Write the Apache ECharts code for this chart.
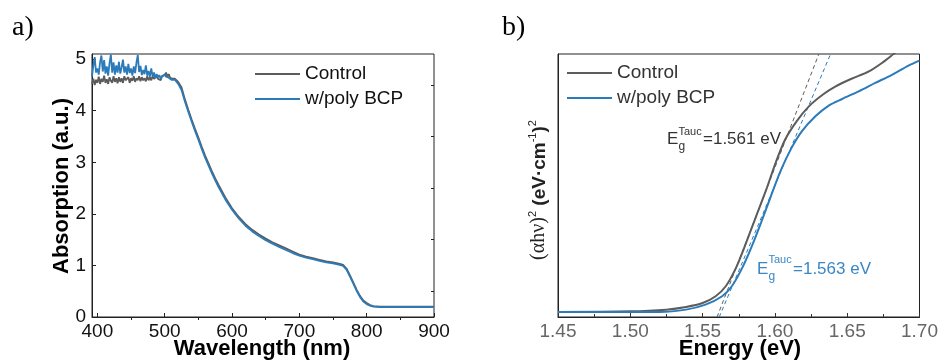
<!DOCTYPE html>
<html>
<head>
<meta charset="utf-8">
<script src="https://cdn.jsdelivr.net/npm/echarts@6/dist/echarts.min.js"></script>
<style>
html,body{margin:0;padding:0;background:#fff;}
#chart{width:941px;height:363px;}
</style>
</head>
<body>
<div id="chart"></div>
<script>
// ---------- Panel a) data ----------
const wavelength = [
  392,394,396,398,400,402,404,406,408,410,412,414,416,418,420,422,424,426,428,430,
  432,434,436,438,440,442,444,446,448,450,452,454,456,458,460,462,464,466,468,470,
  472,474,476,478,480,482,484,486,488,490,492,494,496,498,500,502,504,506,508,510,512,
  515,520,525,530,535,540,545,550,555,560,565,570,575,580,
  590,600,610,620,630,640,650,660,670,680,690,700,710,720,730,740,750,760,
  765,770,775,780,785,790,795,800,805,810,820,840,860,880,900
];
const controlAbs = [
  4.52,4.62,4.50,4.60,4.54,4.66,4.52,4.62,4.56,4.68,4.54,4.61,4.52,4.65,4.58,4.54,4.67,4.56,4.63,4.53,
  4.65,4.56,4.63,4.54,4.67,4.59,4.56,4.65,4.54,4.63,4.58,4.67,4.56,4.63,4.59,4.67,4.57,4.65,4.59,4.63,
  4.57,4.67,4.59,4.65,4.59,4.67,4.62,4.59,4.67,4.62,4.65,4.59,4.67,4.64,4.69,4.74,4.66,4.71,4.64,4.67,4.62,
  4.62,4.56,4.45,4.22,4.02,3.83,3.65,3.48,3.30,3.13,2.98,2.83,2.69,2.56,
  2.32,2.11,1.94,1.80,1.69,1.60,1.52,1.45,1.39,1.33,1.27,1.21,1.17,1.14,1.11,1.08,1.06,1.03,
  1.01,0.94,0.81,0.67,0.53,0.41,0.32,0.27,0.23,0.21,0.20,0.20,0.20,0.20,0.20
];
const polyBcpAbs = [
  4.66,4.88,5.04,4.74,4.82,4.70,4.94,5.07,4.76,4.98,4.72,4.86,4.68,4.92,5.09,4.74,4.94,4.70,4.88,4.74,
  4.95,4.72,4.84,4.99,4.74,4.86,4.70,4.91,4.73,4.82,4.68,4.86,4.73,4.93,5.08,4.75,4.87,4.69,4.79,4.71,
  4.88,4.68,4.77,4.66,4.82,4.67,4.74,4.63,4.71,4.65,4.69,4.62,4.67,4.64,4.70,4.66,4.68,4.64,4.66,4.60,4.58,
  4.60,4.52,4.40,4.18,3.98,3.79,3.61,3.44,3.26,3.09,2.94,2.79,2.65,2.52,
  2.28,2.08,1.91,1.77,1.66,1.57,1.49,1.42,1.36,1.30,1.24,1.19,1.15,1.12,1.09,1.06,1.04,1.01,
  0.99,0.92,0.79,0.65,0.51,0.39,0.30,0.25,0.22,0.20,0.19,0.19,0.19,0.19,0.19
];
const wlTicks = [400,500,600,700,800,900];
const wlMinorTicks = [450,550,650,750,850];
const absTicks = [0,1,2,3,4,5];
const absMinorTicks = [0.5,1.5,2.5,3.5,4.5];

// ---------- Panel b) data ----------
const ctrlEnergy = [1.45,1.50,1.525,1.5385,1.55,1.559,1.566,1.573,1.580,1.587,1.594,1.6005,1.607,1.615,1.6235,1.633,1.642,1.653,1.665,1.674,1.682,1.69];
const ctrlTauc   = [1.9,2.15,2.8,3.8,5.3,7.9,11.7,18.6,28.1,38.3,48.4,58.6,67.4,74.4,80.1,84.5,87.7,90.6,93.4,96.6,100,103.5];
const polyEnergy = [1.45,1.52,1.5385,1.552,1.5635,1.5702,1.5768,1.5835,1.5903,1.5972,1.6043,1.6115,1.6186,1.628,1.6372,1.6464,1.6579,1.6694,1.6809,1.6924,1.70];
const polyTauc   = [1.9,1.9,2.8,4.7,7.9,11.7,18.0,26.2,35.7,45.9,56.0,64.3,70.6,76.3,80.4,82.9,85.8,89.0,92.1,95.6,97.5];
const ctrlFitEnergy = [1.560,1.6304];
const ctrlFitTauc   = [0,100];
const polyFitEnergy = [1.5615,1.6385];
const polyFitTauc   = [0,100];

const seriesNames = ['Control','w/poly BCP'];
const gapLabels = ['=1.561 eV','=1.563 eV'];

const GRAY = '#5c5c5c';
const BLUE = '#2b7bba';
const SANS = '"Liberation Sans", Arial, sans-serif';
const SERIF = '"Liberation Serif", "Times New Roman", serif';

const pairs = (xs, ys) => xs.map((x, i) => [x, ys[i]]);

const chart = echarts.init(document.getElementById('chart'), null, {renderer: 'canvas'});

const tickLen = 4;
const option = {
  animation: false,
  backgroundColor: '#fff',
  grid: [
    {left: 92, top: 54, width: 342, height: 263, show: true, borderColor: '#222', borderWidth: 1, backgroundColor: 'transparent'},
    {left: 558, top: 54, width: 363, height: 263, show: true, borderColor: '#222', borderWidth: 1, backgroundColor: 'transparent'}
  ],
  legend: [
    {
      data: seriesNames, orient: 'vertical', left: 250, top: 59, itemGap: 5,
      icon: 'rect', itemWidth: 45, itemHeight: 2,
      textStyle: {fontSize: 19, fontFamily: SANS, color: '#111', lineHeight: 20},
      selectedMode: false
    },
    {
      data: seriesNames, orient: 'vertical', left: 562, top: 58, itemGap: 5,
      icon: 'rect', itemWidth: 45, itemHeight: 2,
      textStyle: {fontSize: 19, fontFamily: SANS, color: '#333', lineHeight: 20},
      selectedMode: false
    }
  ],
  xAxis: [
    {
      gridIndex: 0, type: 'value', min: 392, max: 900,
      axisLine: {show: true, lineStyle: {color: '#222', width: 1}},
      axisTick: {show: true, inside: true, length: tickLen, customValues: wlTicks, lineStyle: {color: '#222'}},
      axisLabel: {customValues: wlTicks, fontSize: 19, fontFamily: SANS, color: '#111', margin: 5},
      splitLine: {show: false}
    },
    {
      gridIndex: 0, type: 'value', min: 392, max: 900,
      axisLine: {show: false},
      axisTick: {show: true, inside: true, length: 3, customValues: wlMinorTicks, lineStyle: {color: '#222'}},
      axisLabel: {show: false}, splitLine: {show: false}
    },
    {
      gridIndex: 1, type: 'value', min: 1.45, max: 1.70, interval: 0.05,
      axisLine: {show: true, lineStyle: {color: '#222', width: 1}},
      axisTick: {show: true, inside: true, length: tickLen, lineStyle: {color: '#333'}},
      minorTick: {show: true, splitNumber: 2, length: 3, lineStyle: {color: '#333'}},
      axisLabel: {fontSize: 19, fontFamily: SANS, color: '#666', margin: 5, formatter: v => v.toFixed(2)},
      splitLine: {show: false}
    }
  ],
  yAxis: [
    {
      gridIndex: 0, type: 'value', min: 0, max: 5.1,
      axisLine: {show: true, lineStyle: {color: '#222', width: 1}},
      axisTick: {show: true, inside: true, length: tickLen, customValues: absTicks, lineStyle: {color: '#222'}},
      axisLabel: {customValues: absTicks, fontSize: 19, fontFamily: SANS, color: '#111', margin: 6},
      splitLine: {show: false}
    },
    {
      gridIndex: 0, type: 'value', min: 0, max: 5.1,
      axisLine: {show: false},
      axisTick: {show: true, inside: true, length: 3, customValues: absMinorTicks, lineStyle: {color: '#222'}},
      axisLabel: {show: false}, splitLine: {show: false}
    },
    {
      gridIndex: 1, type: 'value', min: 0, max: 100,
      axisLine: {show: true, lineStyle: {color: '#222', width: 1}},
      axisTick: {show: false}, axisLabel: {show: false}, splitLine: {show: false}
    }
  ],
  series: [
    {
      name: seriesNames[0], type: 'line', xAxisIndex: 0, yAxisIndex: 0,
      data: pairs(wavelength, controlAbs), showSymbol: false, symbol: 'none',
      color: GRAY, lineStyle: {color: GRAY, width: 1.8}, z: 2
    },
    {
      name: seriesNames[1], type: 'line', xAxisIndex: 0, yAxisIndex: 0,
      data: pairs(wavelength, polyBcpAbs), showSymbol: false, symbol: 'none',
      color: BLUE, lineStyle: {color: BLUE, width: 1.8}, z: 3
    },
    {
      name: 'ctrlFit', type: 'line', xAxisIndex: 2, yAxisIndex: 2,
      data: pairs(ctrlFitEnergy, ctrlFitTauc), showSymbol: false, symbol: 'none',
      color: GRAY, lineStyle: {color: GRAY, width: 1, type: [4, 3]}, z: 1
    },
    {
      name: 'polyFit', type: 'line', xAxisIndex: 2, yAxisIndex: 2,
      data: pairs(polyFitEnergy, polyFitTauc), showSymbol: false, symbol: 'none',
      color: BLUE, lineStyle: {color: BLUE, width: 1, type: [4, 3]}, z: 1
    },
    {
      name: seriesNames[0], type: 'line', xAxisIndex: 2, yAxisIndex: 2,
      data: pairs(ctrlEnergy, ctrlTauc), showSymbol: false, symbol: 'none', smooth: 0.3,
      color: GRAY, lineStyle: {color: GRAY, width: 2}, z: 2
    },
    {
      name: seriesNames[1], type: 'line', xAxisIndex: 2, yAxisIndex: 2,
      data: pairs(polyEnergy, polyTauc), showSymbol: false, symbol: 'none', smooth: 0.3,
      color: BLUE, lineStyle: {color: BLUE, width: 2}, z: 3
    }
  ],
  graphic: [
    {type: 'text', left: 12, top: 14, style: {text: 'a)', fontSize: 28, fontFamily: SERIF, fill: '#000'}},
    {type: 'text', left: 502, top: 14, style: {text: 'b)', fontSize: 28, fontFamily: SERIF, fill: '#000'}},
    {type: 'text', x: 262, y: 349, style: {text: 'Wavelength (nm)', fontSize: 22, fontWeight: 'bold', fontFamily: SANS, fill: '#000', align: 'center', verticalAlign: 'middle'}},
    {type: 'text', x: 740, y: 349, style: {text: 'Energy (eV)', fontSize: 22, fontWeight: 'bold', fontFamily: SANS, fill: '#000', align: 'center', verticalAlign: 'middle'}},
    {type: 'text', x: 62, y: 186, rotation: Math.PI / 2, style: {text: 'Absorption (a.u.)', fontSize: 22, fontWeight: 'bold', fontFamily: SANS, fill: '#000', align: 'center', verticalAlign: 'middle'}},
    {type: 'text', x: 538, y: 190, rotation: Math.PI / 2, style: {
      text: '{a|(αhν)}{s|2}{b| (eV·cm}{s|-1}{b|)}{s|2}',
      align: 'center', verticalAlign: 'middle',
      rich: {
        a: {fontSize: 20, fontFamily: SERIF, fill: '#222', lineHeight: 22, verticalAlign: 'bottom'},
        b: {fontSize: 19, fontWeight: 'bold', fontFamily: SANS, fill: '#222', lineHeight: 22, verticalAlign: 'bottom'},
        s: {fontSize: 11, fontFamily: SANS, fill: '#222', lineHeight: 22, verticalAlign: 'top'}
      }
    }},
    // Control annotation
    {type: 'text', x: 667, y: 139, style: {text: 'E', fontSize: 17, fontFamily: SANS, fill: '#333', verticalAlign: 'middle'}},
    {type: 'text', x: 678.5, y: 132, style: {text: 'Tauc', fontSize: 11, fontFamily: SANS, fill: '#333', verticalAlign: 'middle'}},
    {type: 'text', x: 678.5, y: 147, style: {text: 'g', fontSize: 12, fontFamily: SANS, fill: '#333', verticalAlign: 'middle'}},
    {type: 'text', x: 703, y: 139, style: {text: gapLabels[0], fontSize: 17, fontFamily: SANS, fill: '#333', verticalAlign: 'middle'}},
    // poly BCP annotation
    {type: 'text', x: 757, y: 269, style: {text: 'E', fontSize: 17, fontFamily: SANS, fill: '#3b87c4', verticalAlign: 'middle'}},
    {type: 'text', x: 768.5, y: 260, style: {text: 'Tauc', fontSize: 11, fontFamily: SANS, fill: '#3b87c4', verticalAlign: 'middle'}},
    {type: 'text', x: 768.5, y: 277, style: {text: 'g', fontSize: 12, fontFamily: SANS, fill: '#3b87c4', verticalAlign: 'middle'}},
    {type: 'text', x: 793, y: 269, style: {text: gapLabels[1], fontSize: 17, fontFamily: SANS, fill: '#3b87c4', verticalAlign: 'middle'}}
  ]
};
chart.setOption(option);
</script>
</body>
</html>
